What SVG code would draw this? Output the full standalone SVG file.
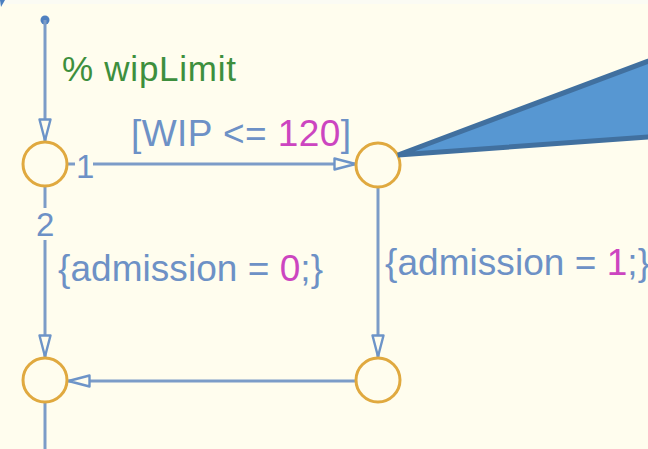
<svg xmlns="http://www.w3.org/2000/svg" width="648" height="449" viewBox="0 0 648 449">
  <style>
    .wire { stroke: #7c9cc8; stroke-width: 3; fill: none; }
    .junction { fill: #fffdee; stroke: #e0a93f; stroke-width: 3; }
    .lbl { font-family: "Liberation Sans", Arial, sans-serif; font-size: 37px; fill: #6d91c6; }
    .ord { font-size: 33px; }
    .num { fill: #cc45c0; }
    .comment { font-family: "Liberation Sans", Arial, sans-serif; font-size: 35px; fill: #3d8f3d; }
  </style>
  <defs>
    <marker id="arrow" viewBox="0 0 24 14" refX="24" refY="7" markerWidth="24" markerHeight="14" markerUnits="userSpaceOnUse" orient="auto">
      <path d="M1.5,1.5 L22.5,7 L1.5,12.5 Z" fill="#fffdee" stroke="#6d94c8" stroke-width="2.4" stroke-linejoin="round"/>
    </marker>
  </defs>

  <rect width="648" height="449" fill="#fffdee"/>
  <rect width="648" height="4" fill="#fbfbf4"/>
  <path d="M0,0 L5,0 L1,7 Z" fill="#4a7fc0"/>

  <g id="connectors">
    <!-- default transition -->
    <circle cx="45" cy="20" r="4.5" fill="#4f80c0"/>
    <line class="wire" x1="45" y1="20" x2="45" y2="142" marker-end="url(#arrow)"/>
    <!-- transition 1 -->
    <line class="wire" x1="67" y1="164" x2="75" y2="164"/>
    <line class="wire" x1="93" y1="164" x2="357" y2="164" marker-end="url(#arrow)"/>
    <!-- transition 2 -->
    <line class="wire" x1="45" y1="186" x2="45" y2="208"/>
    <line class="wire" x1="45" y1="240" x2="45" y2="358" marker-end="url(#arrow)"/>
    <!-- right branch -->
    <line class="wire" x1="378" y1="187" x2="378" y2="358" marker-end="url(#arrow)"/>
    <!-- return to merge junction -->
    <line class="wire" x1="356" y1="381" x2="67" y2="381" marker-end="url(#arrow)"/>
    <!-- exit -->
    <line class="wire" x1="45" y1="403" x2="45" y2="449"/>
  </g>

  <g id="j1"><circle class="junction" cx="45" cy="164" r="22"/></g>
  <g id="j2"><circle class="junction" cx="378" cy="165" r="22"/></g>
  <g id="j3"><circle class="junction" cx="378" cy="380" r="22"/></g>
  <g id="j4"><circle class="junction" cx="45" cy="380" r="22"/></g>

  <g id="labels">
    <text class="comment" x="62" y="81" textLength="174" lengthAdjust="spacing">% wipLimit</text>
    <text class="lbl" x="131" y="146" textLength="220" lengthAdjust="spacing">[WIP &lt;= <tspan class="num">120</tspan>]</text>
    <text class="lbl ord" x="76" y="178">1</text>
    <text class="lbl ord" x="36" y="236">2</text>
    <text class="lbl" x="58" y="281" textLength="265" lengthAdjust="spacing">{admission = <tspan class="num">0</tspan>;}</text>
    <text class="lbl" x="385" y="275" textLength="265" lengthAdjust="spacing">{admission = <tspan class="num">1</tspan>;}</text>
  </g>

  <g id="callout">
    <polygon points="398,155 662,56 662,136" fill="#5797d2" stroke="#41709f" stroke-width="5" stroke-linejoin="miter"/>
  </g>
</svg>
